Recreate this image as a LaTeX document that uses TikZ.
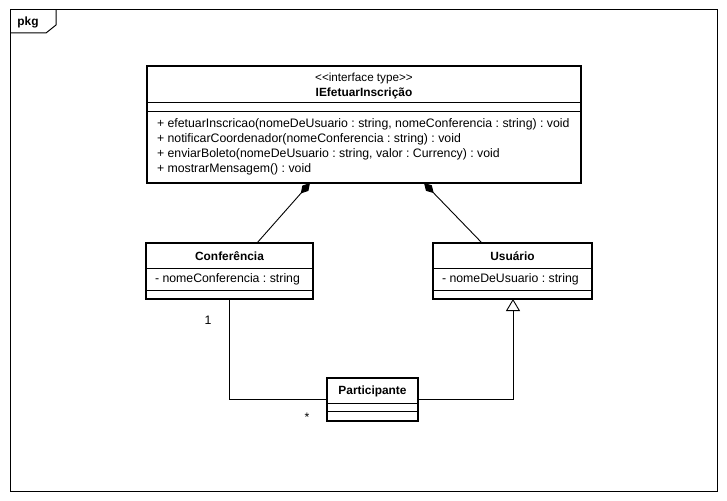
\documentclass[tikz,border=0pt]{standalone}
\usepackage{fontspec}
\setmainfont{Liberation Sans}
\usetikzlibrary{arrows.meta}
\frenchspacing
\begin{document}
\begin{tikzpicture}[x=1pt,y=-1pt,
  every node/.style={inner sep=0pt,outer sep=0pt},
  txt/.style={font=\fontsize{12.3}{14}\selectfont},
  bold/.style={font=\fontsize{11.9}{14}\selectfont\bfseries},
  classbox/.style={draw,line width=2pt,rectangle,anchor=north west},
  sep/.style={line width=1pt},
  conn/.style={line width=0.9pt},
  compo/.style={conn,-{Diamond[length=14,width=8]}},
  gen/.style={conn,-{Triangle[open,length=12,width=14,line width=0.9pt]}}]
\useasboundingbox (0,0) rectangle (727,500);
\fill[white] (0,0) rectangle (727,500);

% package frame and tab
\node[draw,line width=1pt,minimum width=707,minimum height=481,anchor=north west] (frame) at (10,10) {};
\draw[line width=1pt] (10,33) -- (46,33) -- (56,25) -- (56,10);
\node[bold] (pkg) at (28,22) {pkg};

% interface
\node[classbox,minimum width=434,minimum height=117] (iface) at (147,66) {};
\node[txt,font=\fontsize{11.7}{13}\selectfont] (stereo) at (364,78) {<{}<interface type>{}>};
\node[bold] (ifname) at (364,93) {IEfetuarInscrição};
\draw[sep] (147,103) -- (581,103);
\draw[sep] (147,111) -- (581,111);
\node[txt,anchor=west] (op1) at (157,124) {+ efetuarInscricao(nomeDeUsuario : string, nomeConferencia : string) : void};
\node[txt,anchor=west] (op2) at (157,139) {+ notificarCoordenador(nomeConferencia : string) : void};
\node[txt,anchor=west] (op3) at (157,154) {+ enviarBoleto(nomeDeUsuario : string, valor : Currency) : void};
\node[txt,anchor=west] (op4) at (157,169) {+ mostrarMensagem() : void};

% Conferencia
\node[classbox,minimum width=167,minimum height=56] (conf) at (146,243) {};
\node[bold] (confname) at (229.5,256) {Conferência};
\draw[sep] (146,268) -- (313,268);
\node[txt,anchor=west] (confattr) at (155,279) {- nomeConferencia : string};
\draw[sep] (146,290) -- (313,290);

% Usuario
\node[classbox,minimum width=159,minimum height=56] (usu) at (433,243) {};
\node[bold] (usuname) at (512.5,256) {Usuário};
\draw[sep] (433,268) -- (592,268);
\node[txt,anchor=west] (usuattr) at (442,279) {- nomeDeUsuario : string};
\draw[sep] (433,290) -- (592,290);

% Participante
\node[classbox,minimum width=91,minimum height=43] (part) at (327,378) {};
\node[bold] (partname) at (372.5,391) {Participante};
\draw[sep] (327,403) -- (418,403);
\draw[sep] (327,411) -- (418,411);

% connector end points on the class borders
\coordinate (ifL) at (310,183);
\coordinate (ifR) at (424,183);
\coordinate (confT) at (257,243);
\coordinate (usuT) at (482,243);
\coordinate (confB) at (229,299);
\coordinate (usuB) at (513,299);
\coordinate (partW) at (327,399);
\coordinate (partE) at (418,399);

\draw[compo] (confT) -- (ifL);
\draw[compo] (usuT) -- (ifR);
\draw[conn] (confB) |- (partW);
\draw[gen] (partE) -| (usuB);

\node[txt] (m1) at (208,320) {1};
\node[txt] (m2) at (307,417) {*};
\end{tikzpicture}
\end{document}
